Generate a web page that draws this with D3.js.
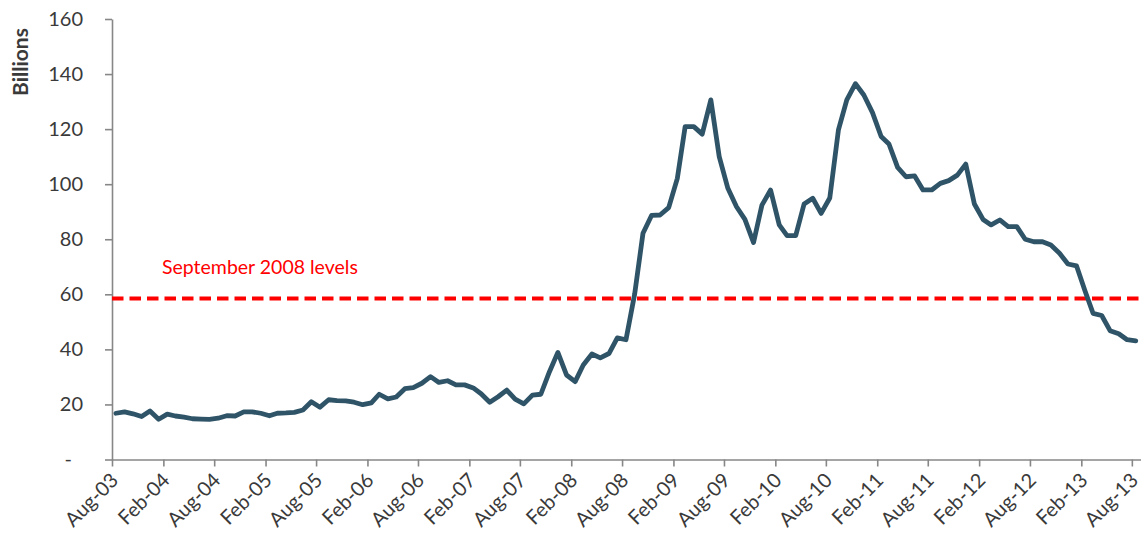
<!DOCTYPE html>
<html><head><meta charset="utf-8">
<script src="https://cdn.jsdelivr.net/npm/d3@7"></script>
<style>
body{margin:0;background:#fff;}
svg{display:block;}
text{font-family:Lato,"Open Sans",sans-serif;}
</style></head>
<body><svg id="c" width="1144" height="542"></svg>
<script>
// Monthly values, Aug-03 .. Aug-13 (billions)
const startMonth = "2003-08";
const values = [
 16.8,17.3,16.6,15.6,17.6,14.6,16.5,15.8,15.4,14.8,
 14.7,14.6,15.0,15.9,15.8,17.3,17.3,16.8,15.9,16.8,
 16.9,17.1,18.0,21.0,19.0,21.7,21.4,21.3,20.8,19.9,
 20.6,23.7,22.0,22.7,25.7,26.1,27.7,30.1,28.0,28.6,
 27.1,27.1,26.0,23.9,20.8,22.8,25.2,21.9,20.2,23.4,
 23.7,31.9,38.9,30.7,28.3,34.3,38.3,36.9,38.5,44.2,
 43.5,60.0,82.2,88.7,88.8,91.5,102.1,120.9,120.9,118.2,
 130.6,110.0,98.5,91.8,87.2,78.8,92.4,97.9,85.2,81.3,
 81.3,92.8,94.9,89.4,95.0,119.7,130.6,136.5,132.4,126.0,
 117.3,114.6,106.1,102.7,103.0,97.9,97.9,100.3,101.3,103.3,
 107.3,92.8,87.2,85.2,87.0,84.6,84.6,80.0,79.1,79.1,
 77.9,74.9,71.0,70.3,61.0,53.1,52.3,46.8,45.7,43.5,
 43.1
];
const refLevel = 58.5;
const refLabel = "September 2008 levels";
const yTicks = [0,20,40,60,80,100,120,140,160];
const xTickLabels = ["Aug-03","Feb-04","Aug-04","Feb-05","Aug-05","Feb-06","Aug-06","Feb-07","Aug-07","Feb-08","Aug-08","Feb-09","Aug-09","Feb-10","Aug-10","Feb-11","Aug-11","Feb-12","Aug-12","Feb-13","Aug-13"];
const yTitle = "Billions";

(function(){
const parseM = d3.timeParse("%Y-%m");
const t0 = parseM(startMonth);
// data points sit mid-month
const data = values.map((v,i)=>({date: d3.timeDay.offset(d3.timeMonth.offset(t0,i),14), v}));
const tickDates = xTickLabels.map((_,i)=>d3.timeMonth.offset(t0,i*6));

const svg = d3.select("#c");
const mLeft = 112, mRight = 1140.5, mTop = 19, mBottom = 459.5;
const x = d3.scaleTime().domain([t0, d3.timeMonth.offset(t0, values.length)]).range([mLeft, mRight]);
const y = d3.scaleLinear().domain([0,160]).range([mBottom, mTop]);

const axisColor = "#878787", textColor = "#3a3a3a";

// Y axis
const yAxis = svg.append("g").attr("transform",`translate(${mLeft},0)`)
  .call(d3.axisLeft(y).tickValues(yTicks).tickSize(7).tickSizeOuter(0).tickPadding(22)
    .tickFormat(d=> d===0 ? "-" : d));
yAxis.selectAll("path,line").attr("stroke",axisColor).attr("stroke-width",1.6);
yAxis.selectAll("text").attr("fill",textColor).style("font-size","20px");
yAxis.selectAll(".tick text").filter(d=>d===0).attr("dx",-11);

// X axis
const xAxis = svg.append("g").attr("transform",`translate(0,${mBottom})`)
  .call(d3.axisBottom(x).tickValues(tickDates).tickSize(7).tickSizeOuter(0)
    .tickFormat((d,i)=>xTickLabels[i]));
xAxis.selectAll("path,line").attr("stroke",axisColor).attr("stroke-width",1.6);
xAxis.selectAll("text").attr("fill",textColor).style("font-size","20px")
  .attr("text-anchor","end").attr("dy","0").attr("dx","0")
  .attr("transform","translate(0,15) rotate(-45)");

// Y title
svg.append("text").attr("transform","translate(28,62) rotate(-90)")
  .attr("text-anchor","middle").attr("fill",textColor)
  .style("font-size","21px").style("font-weight","bold").text(yTitle);

// Reference line
svg.append("line").attr("x1",mLeft).attr("x2",mRight)
  .attr("y1",y(refLevel)).attr("y2",y(refLevel))
  .attr("stroke","#ff0000").attr("stroke-width",4).attr("stroke-dasharray","11.5,6");
svg.append("text").attr("x",162).attr("y",y(refLevel)-24)
  .attr("fill","#ff0000").style("font-size","19.5px").text(refLabel);

// Main line
svg.append("path").datum(data)
  .attr("fill","none").attr("stroke","#2f5468").attr("stroke-width",4.8)
  .attr("stroke-linejoin","round").attr("stroke-linecap","round")
  .attr("d", d3.line().x(d=>x(d.date)).y(d=>y(d.v)));
})();
</script></body></html>
